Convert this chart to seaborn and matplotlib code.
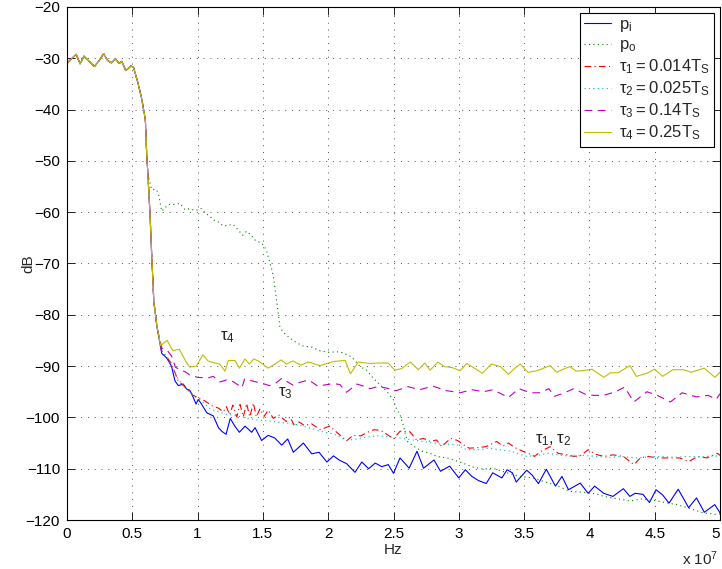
import matplotlib
matplotlib.use("Agg")
import matplotlib.pyplot as plt
import seaborn as sns

# frequency axis is in units of 1e7 Hz (shown as "x 10^7" under the axis)

# common pass-band part shared by every curve
head_f = [0.00, 0.03, 0.07, 0.10, 0.13, 0.17, 0.21, 0.25, 0.28, 0.31, 0.34, 0.37,
          0.40, 0.42, 0.45, 0.49, 0.51, 0.54, 0.57, 0.60, 0.61]
head_db = [-31.0, -30.2, -29.2, -31.1, -29.6, -30.6, -31.6, -30.3, -29.1, -30.4, -30.9, -30.1,
           -31.0, -30.6, -32.4, -31.5, -31.8, -34.5, -37.6, -42.0, -48.5]

# steep edge shared by p_i and tau curves
drop_f = [0.62, 0.635, 0.648, 0.665, 0.69]
drop_db = [-53.0, -60.0, -68.0, -77.5, -82.5]

pi_f = [0.725, 0.763, 0.80, 0.827, 0.852, 0.89, 0.917, 0.94, 0.967, 0.988, 1.005, 1.03,
        1.07, 1.12, 1.16, 1.185, 1.218, 1.25, 1.285, 1.32, 1.363, 1.414, 1.44, 1.49,
        1.54, 1.59, 1.644, 1.69, 1.733, 1.81, 1.874, 1.93, 1.99, 2.04, 2.09, 2.14,
        2.205, 2.257, 2.31, 2.36, 2.41, 2.46, 2.50, 2.55, 2.62, 2.68, 2.73, 2.81,
        2.86, 2.93, 3.00, 3.05, 3.10, 3.15, 3.21, 3.26, 3.33, 3.37, 3.41, 3.44,
        3.52, 3.56, 3.61, 3.67, 3.74, 3.79, 3.84, 3.93, 3.99, 4.04, 4.11, 4.18,
        4.26, 4.31, 4.35, 4.41, 4.46, 4.51, 4.56, 4.61, 4.68, 4.76, 4.82, 4.88,
        4.96, 5.00]
pi_db = [-87.5, -88.4, -90.0, -92.9, -93.8, -93.5, -94.5, -94.7, -96.1, -97.4, -96.5, -97.4,
         -99.1, -99.7, -102.0, -102.7, -103.3, -100.2, -101.7, -102.9, -101.7, -102.9, -102.0, -104.5,
         -103.5, -104.0, -105.4, -104.2, -106.8, -105.0, -107.1, -106.8, -108.7, -107.5, -108.4, -109.0,
         -110.7, -108.7, -110.0, -108.9, -109.6, -109.2, -110.9, -107.9, -109.9, -106.6, -109.9, -108.3,
         -110.5, -109.5, -111.8, -110.2, -111.5, -112.3, -112.9, -110.8, -111.8, -110.2, -110.8, -112.6,
         -110.3, -111.2, -112.9, -110.1, -113.4, -111.5, -114.1, -112.8, -114.8, -113.4, -114.8, -115.4,
         -113.9, -115.4, -114.8, -115.0, -116.6, -114.1, -115.1, -116.7, -114.0, -117.6, -115.7, -118.5,
         -117.0, -118.6]

po_f = [0.622, 0.635, 0.648, 0.686, 0.704, 0.712, 0.725, 0.776, 0.814, 0.865, 0.903, 0.942,
        0.98, 1.03, 1.056, 1.094, 1.133, 1.159, 1.197, 1.235, 1.274, 1.312, 1.345, 1.376,
        1.414, 1.446, 1.482, 1.508, 1.528, 1.541, 1.567, 1.58, 1.593, 1.605, 1.618, 1.63,
        1.66, 1.71, 1.76, 1.81, 1.874, 1.937, 2.00, 2.09, 2.18, 2.244, 2.295, 2.346,
        2.40, 2.45, 2.50, 2.525, 2.55, 2.575, 2.59, 2.61, 2.66, 2.72, 2.78, 2.83,
        2.91, 2.96, 3.03, 3.11, 3.19, 3.26, 3.37, 3.47, 3.57, 3.65, 3.75, 3.85,
        3.95, 4.05, 4.11, 4.20, 4.31, 4.40, 4.50, 4.58, 4.67, 4.75, 4.87, 4.97, 5.00]
po_db = [-52.7, -54.3, -55.6, -55.6, -56.8, -58.0, -59.8, -58.5, -58.5, -58.3, -59.5, -59.3,
         -59.7, -59.3, -60.1, -60.8, -61.7, -61.9, -62.7, -62.5, -62.4, -63.5, -64.5, -63.7,
         -64.6, -65.6, -65.9, -66.5, -67.5, -68.8, -71.1, -72.4, -75.0, -77.2, -79.8, -82.4,
         -83.5, -84.6, -85.5, -86.1, -86.3, -87.0, -87.3, -87.2, -88.2, -90.1, -90.8, -92.4,
         -93.7, -95.0, -96.6, -98.5, -99.5, -101.5, -103.2, -104.8, -105.7, -106.6, -107.0, -107.6,
         -107.9, -108.3, -108.9, -109.7, -110.1, -109.9, -110.8, -111.5, -111.8, -112.5, -113.3, -114.4,
         -114.6, -114.9, -115.4, -115.8, -116.3, -115.9, -116.2, -116.6, -117.0, -117.6, -118.6, -118.9, -118.8]

t1_f = [0.725, 0.763, 0.80, 0.85, 0.916, 0.942, 0.967, 1.006, 1.057, 1.107, 1.16, 1.197,
        1.22, 1.245, 1.27, 1.30, 1.325, 1.35, 1.375, 1.40, 1.427, 1.45, 1.478, 1.51,
        1.54, 1.58, 1.62, 1.68, 1.707, 1.745, 1.77, 1.82, 1.87, 1.94, 2.01, 2.07,
        2.14, 2.19, 2.25, 2.30, 2.35, 2.40, 2.45, 2.50, 2.55, 2.625, 2.677, 2.73,
        2.78, 2.83, 2.87, 2.91, 2.94, 2.99, 3.04, 3.08, 3.14, 3.21, 3.29, 3.34,
        3.38, 3.43, 3.49, 3.53, 3.58, 3.63, 3.70, 3.76, 3.83, 3.88, 3.93, 3.99,
        4.05, 4.11, 4.18, 4.26, 4.34, 4.39, 4.45, 4.52, 4.62, 4.69, 4.76, 4.83,
        4.90, 4.98, 5.00]
t1_db = [-87.0, -88.2, -89.5, -92.8, -94.4, -95.0, -95.7, -96.2, -96.8, -97.7, -98.2, -98.9,
         -97.9, -99.5, -97.6, -99.9, -97.5, -99.9, -97.3, -99.9, -97.2, -99.9, -98.3, -99.8,
         -98.6, -100.2, -99.5, -100.8, -99.9, -101.8, -100.8, -101.6, -101.2, -102.4, -101.7, -103.0,
         -104.6, -103.5, -103.6, -102.9, -102.4, -102.5, -103.3, -104.2, -102.7, -102.8, -104.4, -104.1,
         -104.7, -104.4, -105.7, -104.7, -104.1, -104.5, -105.4, -106.0, -105.9, -105.7, -104.7, -105.6,
         -105.0, -105.9, -106.6, -107.0, -107.6, -106.6, -105.7, -107.0, -107.3, -107.6, -107.5, -106.3,
         -107.2, -107.6, -107.3, -107.6, -109.2, -107.9, -107.6, -107.9, -107.9, -107.9, -108.6, -107.6,
         -107.9, -107.0, -107.4]

t2_f = [0.725, 0.763, 0.80, 0.85, 0.916, 0.967, 1.006, 1.05, 1.10, 1.16, 1.22, 1.28,
        1.33, 1.39, 1.45, 1.52, 1.58, 1.64, 1.71, 1.78, 1.86, 1.96, 2.04, 2.14,
        2.22, 2.30, 2.38, 2.46, 2.55, 2.62, 2.70, 2.78, 2.86, 2.93, 2.99, 3.06,
        3.16, 3.23, 3.31, 3.40, 3.52, 3.60, 3.68, 3.76, 3.85, 3.95, 4.05, 4.15,
        4.25, 4.35, 4.45, 4.55, 4.65, 4.75, 4.85, 4.95, 5.00]
t2_db = [-87.0, -88.3, -89.8, -92.5, -94.5, -95.8, -96.4, -97.2, -98.4, -98.9, -99.4, -99.6,
         -99.9, -100.2, -100.5, -100.6, -100.8, -101.0, -101.2, -101.5, -102.1, -102.8, -103.2, -104.5,
         -104.2, -103.8, -103.6, -103.8, -104.0, -104.3, -104.6, -104.9, -105.2, -105.2, -105.4, -106.3,
         -106.3, -106.0, -106.3, -106.6, -107.6, -107.4, -107.0, -107.3, -107.6, -107.4, -107.6, -107.8,
         -107.6, -107.9, -107.7, -107.6, -107.8, -107.6, -107.7, -107.5, -107.6]

t3_f = [0.725, 0.76, 0.80, 0.83, 0.87, 0.904, 0.94, 1.00, 1.08, 1.12, 1.17, 1.22,
        1.27, 1.34, 1.36, 1.45, 1.50, 1.55, 1.60, 1.644, 1.73, 1.78, 1.85, 1.92,
        2.04, 2.09, 2.14, 2.22, 2.27, 2.32, 2.38, 2.45, 2.52, 2.61, 2.70, 2.80,
        2.91, 3.01, 3.10, 3.19, 3.26, 3.38, 3.46, 3.55, 3.62, 3.69, 3.73, 3.80,
        3.88, 3.97, 4.03, 4.11, 4.20, 4.27, 4.34, 4.44, 4.52, 4.62, 4.71, 4.82,
        4.91, 4.97, 5.00]
t3_db = [-86.5, -86.7, -88.0, -90.2, -90.8, -91.1, -91.7, -92.2, -92.3, -92.0, -93.1, -92.7,
         -93.0, -94.2, -92.5, -93.1, -93.4, -93.8, -93.3, -92.4, -93.7, -93.2, -92.7, -93.9,
         -93.4, -93.6, -95.1, -93.5, -93.9, -94.4, -94.0, -94.3, -94.8, -94.0, -94.6, -93.9,
         -94.8, -95.2, -94.6, -95.0, -94.6, -96.1, -94.4, -95.2, -95.2, -94.4, -95.9, -95.3,
         -94.4, -95.5, -95.7, -95.7, -95.0, -94.1, -97.0, -95.0, -95.7, -97.0, -95.2, -96.0,
         -95.7, -96.5, -95.4]

t4_f = [0.717, 0.767, 0.81, 0.86, 0.916, 0.94, 0.99, 1.04, 1.08, 1.133, 1.17, 1.21,
        1.235, 1.286, 1.32, 1.363, 1.396, 1.43, 1.465, 1.54, 1.58, 1.64, 1.68, 1.73,
        1.79, 1.85, 1.937, 2.04, 2.13, 2.17, 2.23, 2.32, 2.38, 2.46, 2.51, 2.56,
        2.63, 2.69, 2.74, 2.78, 2.84, 2.89, 2.95, 3.01, 3.06, 3.12, 3.18, 3.25,
        3.32, 3.38, 3.43, 3.47, 3.53, 3.60, 3.70, 3.75, 3.80, 3.85, 3.90, 3.97,
        4.02, 4.11, 4.16, 4.22, 4.31, 4.36, 4.44, 4.50, 4.56, 4.64, 4.72, 4.78,
        4.88, 4.96, 5.00]
t4_db = [-86.0, -85.0, -87.0, -86.7, -89.4, -90.2, -90.0, -87.8, -89.0, -89.4, -89.6, -91.0,
         -88.9, -88.9, -90.4, -88.6, -89.6, -88.6, -89.0, -90.4, -89.8, -88.8, -89.6, -89.0,
         -89.8, -89.2, -89.9, -89.1, -88.9, -91.5, -89.2, -89.5, -89.4, -89.4, -90.8, -90.5,
         -89.2, -90.7, -89.4, -90.8, -89.2, -90.1, -90.3, -90.9, -89.5, -90.4, -91.4, -89.6,
         -90.1, -91.6, -90.4, -89.6, -91.2, -90.9, -89.9, -91.2, -90.6, -90.1, -91.0, -90.8,
         -90.6, -92.2, -91.3, -91.3, -89.9, -92.0, -91.4, -90.6, -92.0, -90.7, -90.7, -91.2,
         -90.4, -92.2, -91.2]

labels = [r'$\mathregular{p_i}$', r'$\mathregular{p_o}$',
          r'$\mathregular{τ_1 = 0.014T_S}$', r'$\mathregular{τ_2 = 0.025T_S}$',
          r'$\mathregular{τ_3 = 0.14T_S}$', r'$\mathregular{τ_4 = 0.25T_S}$']
colors = [(0, 0, 1), (0, 0.5, 0), (1, 0, 0), (0, 0.75, 0.75), (0.75, 0, 0.75), (0.75, 0.75, 0)]
styles = ['-', (0, (1, 3)), (0, (6, 3, 1, 3)), (0, (1, 3)), (0, (7, 5)), '-']

series = [
    (head_f + drop_f + pi_f, head_db + drop_db + pi_db),
    (head_f + po_f, head_db + po_db),
    (head_f + drop_f + t1_f, head_db + drop_db + t1_db),
    (head_f + drop_f + t2_f, head_db + drop_db + t2_db),
    (head_f + drop_f + t3_f, head_db + drop_db + t3_db),
    (head_f + drop_f + t4_f, head_db + drop_db + t4_db),
]

sns.set_style("ticks")
plt.rcParams['font.family'] = ['Liberation Sans', 'DejaVu Sans']
plt.rcParams['mathtext.default'] = 'regular'

fig = plt.figure(figsize=(7.22, 5.69), dpi=100)
ax = fig.add_axes([67 / 722, 49 / 569, 653 / 722, 513 / 569])

for (f, db), lab, c, ls in zip(series, labels, colors, styles):
    sns.lineplot(x=f, y=db, color=c, linestyle=ls, linewidth=0.8, label=lab, ax=ax, sort=False)

ax.set_xlim(0, 5)
ax.set_ylim(-120, -20)
ax.set_xticks([0, 0.5, 1, 1.5, 2, 2.5, 3, 3.5, 4, 4.5, 5])
ax.set_xticklabels(['0', '0.5', '1', '1.5', '2', '2.5', '3', '3.5', '4', '4.5', '5'])
ax.get_xticklabels()[-1].set_horizontalalignment('right')
ax.set_yticks(range(-120, -19, 10))
ax.tick_params(direction='in', length=6, width=0.6, top=True, right=True,
               labelsize=11, colors='black', pad=5)
for sp in ax.spines.values():
    sp.set_visible(True)
    sp.set_linewidth(0.8)
    sp.set_color('black')
ax.grid(True, color='#555555', linestyle=(0, (1, 6)), linewidth=0.7)

ax.set_xlabel('Hz', fontsize=11)
ax.xaxis.set_label_coords(0.5, -0.045)
ax.set_ylabel('dB', fontsize=11)
ax.yaxis.set_label_coords(-0.048, 0.5)
ax.text(0.997, -0.087, r'x 10$^{7}$', transform=ax.transAxes, ha='right', va='baseline', fontsize=11)

ax.text(1.23, -84.3, r'$\mathregular{τ_4}$', ha='center', va='center', fontsize=12)
ax.text(1.67, -95.2, r'$\mathregular{τ_3}$', ha='center', va='center', fontsize=12)
ax.text(3.72, -104.4, r'$\mathregular{τ_1, τ_2}$', ha='center', va='center', fontsize=12)

leg = ax.legend(loc='upper right', fontsize=12, frameon=True, fancybox=False, framealpha=1,
                edgecolor='black', borderaxespad=0.35, handlelength=1.6, handletextpad=0.5,
                labelspacing=0.2, borderpad=0.25)
leg.get_frame().set_linewidth(0.8)

fig.savefig('out.png', dpi=100)
